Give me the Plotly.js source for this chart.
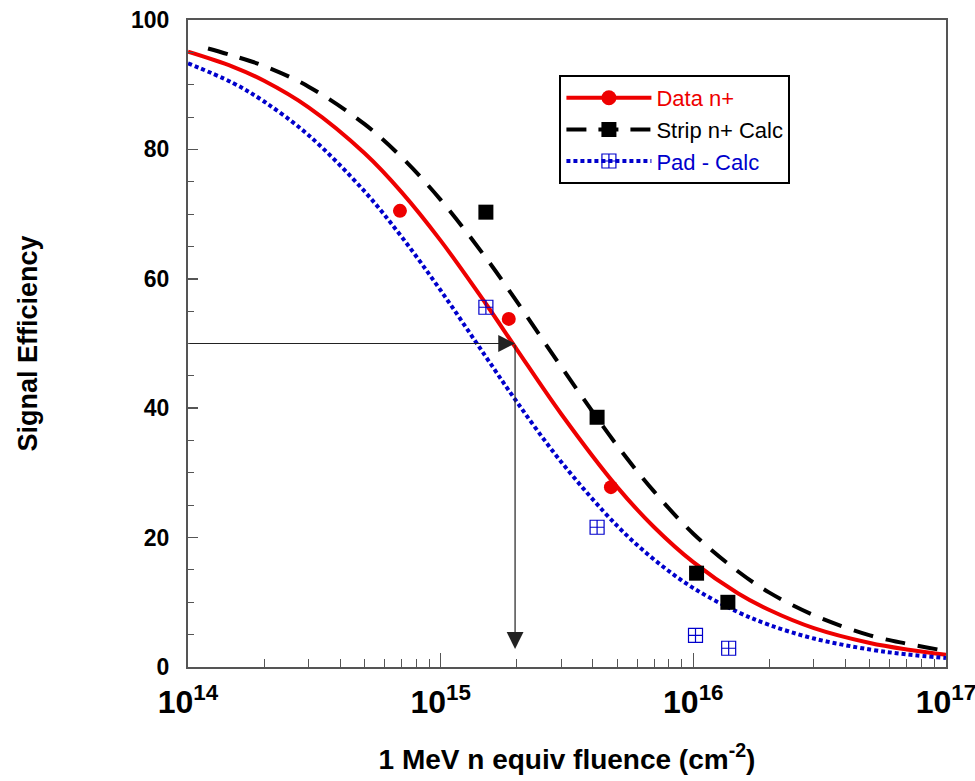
<!DOCTYPE html>
<html>
<head>
<meta charset="utf-8">
<script src="https://cdn.plot.ly/plotly-3.0.1.min.js"></script>
<style>html,body{margin:0;padding:0;background:#fff}#chart{width:975px;height:781px}</style>
</head>
<body>
<div id="chart"></div>
<script>
// Curves
const redFluence = [1e14,1.5e14,2e14,3e14,5e14,7e14,1e15,1.5e15,2e15,3e15,5e15,7e15,1e16,1.5e16,2e16,3e16,5e16,7e16,1e17];
const redEff     = [95.1,92.8,90.6,86.5,79.4,73.4,65.9,56.3,49.1,39.1,27.8,21.6,16.2,11.4,8.8,6.0,3.7,2.7,1.9];
const blackFluence = [1.2e14,1.5e14,2e14,3e14,5e14,7e14,1e15,1.5e15,2e15,3e15,5e15,7e15,1e16,1.5e16,2e16,3e16,5e16,7e16,1e17];
const blackEff     = [95.6,94.5,92.9,89.7,83.9,78.8,72.2,63.4,56.5,46.4,34.2,27.1,20.6,14.8,11.5,8.0,4.9,3.6,2.5];
const blueFluence = [1e14,1.5e14,2e14,3e14,5e14,7e14,1e15,1.5e15,2e15,3e15,5e15,7e15,1e16,1.5e16,2e16,3e16,5e16,7e16,1e17];
const blueEff     = [93.3,90.3,87.4,82.2,73.5,66.5,58.2,48.1,41.0,31.7,21.8,16.6,12.2,8.5,6.5,4.4,2.7,1.95,1.4];
// Measured / calculated points
const dataX  = [6.9e14,1.86e15,4.72e15];
const dataY  = [70.5,53.8,27.8];
const stripX = [1.51e15,4.16e15,1.03e16,1.37e16];
const stripY = [70.3,38.6,14.5,10.0];
const padX   = [1.51e15,4.16e15,1.02e16,1.38e16];
const padY   = [55.6,21.6,4.9,2.9];
// Arrow construction (50% point)
const arrowStartX = 1e14, arrowY = 50, arrowX = 1.97e15, arrowEndY = 2.8;
// Tick labels
const xTickVals = [1e14,1e15,1e16,1e17];
const xTickText = ['10<sup>14</sup>','10<sup>15</sup>','10<sup>16</sup>','10<sup>17</sup>'];

const names = ['Data n+','Strip n+ Calc','Pad - Calc'];
const colors = ['#ee0000','#000000','#0000cc'];

const traces = [
  {x: redFluence, y: redEff, mode:'lines', line:{color:colors[0], width:4, shape:'spline'}, showlegend:false, hoverinfo:'skip'},
  {x: blackFluence, y: blackEff, mode:'lines', line:{color:colors[1], width:4, dash:'20px,13px', shape:'spline'}, showlegend:false, hoverinfo:'skip'},
  {x: blueFluence, y: blueEff, mode:'lines', line:{color:colors[2], width:4, dash:'4px,3px', shape:'spline'}, showlegend:false, hoverinfo:'skip'},
  {x: dataX, y: dataY, mode:'markers', marker:{symbol:'circle', size:14, color:colors[0]}, showlegend:false},
  {x: stripX, y: stripY, mode:'markers', marker:{symbol:'square', size:15, color:colors[1]}, showlegend:false},
  {x: padX, y: padY, mode:'markers', marker:{symbol:'square-cross-open', size:14, color:colors[2], line:{width:1.2}}, showlegend:false},
  // legend entries
  {x:[null], y:[null], mode:'lines+markers', name:'<span style="color:'+colors[0]+'">'+names[0]+'</span>', line:{color:colors[0], width:4}, marker:{symbol:'circle', size:15, color:colors[0]}},
  {x:[null], y:[null], mode:'lines+markers', name:'<span style="color:'+colors[1]+'">'+names[1]+'</span>', line:{color:colors[1], width:4, dash:'20px,12px'}, marker:{symbol:'square', size:15, color:colors[1]}},
  {x:[null], y:[null], mode:'lines+markers', name:'<span style="color:'+colors[2]+'">'+names[2]+'</span>', line:{color:colors[2], width:4, dash:'4px,3px'}, marker:{symbol:'square-cross-open', size:14, color:colors[2], line:{width:1.2}}}
];

const FF = 'Liberation Sans, Arial, sans-serif';

const layout = {
  width:975, height:781,
  margin:{l:188, r:29, t:20, b:114},
  paper_bgcolor:'#fff', plot_bgcolor:'#fff',
  showlegend:true,
  legend:{x:0.49, y:0.915, xanchor:'left', yanchor:'top', bgcolor:'#fff', bordercolor:'#000', borderwidth:2,
          font:{family:FF, size:22, color:'#000'}, itemwidth:85, tracegroupgap:0},
  xaxis:{type:'log', range:[13.9999,17.0001], tickvals:xTickVals, ticktext:xTickText,
         tickfont:{family:FF, size:32, color:'#000', weight:'bold'}, ticklabelstandoff:6, ticklabeloverflow:'allow',
         ticks:'inside', ticklen:14, tickcolor:'#555', tickwidth:1.5,
         minor:{ticks:'inside', ticklen:8, tickcolor:'#555', tickwidth:1, dtick:'D1'},
         showline:true, linecolor:'#555', linewidth:2, mirror:true, showgrid:false, zeroline:false,
         title:{text:'1 MeV n equiv fluence (cm<sup>-2</sup>)', font:{family:FF, size:28, color:'#000', weight:'bold'}, standoff:30}},
  yaxis:{range:[0,100], dtick:20, tickfont:{family:FF, size:23, color:'#000', weight:'bold'}, ticklabelstandoff:12,
         ticks:'inside', ticklen:10, tickcolor:'#555', tickwidth:1.5,
         minor:{ticks:'inside', ticklen:6, tickcolor:'#555', tickwidth:1, dtick:5},
         showline:true, linecolor:'#555', linewidth:2, mirror:true, showgrid:false, zeroline:false,
         title:{text:'Signal Efficiency', font:{family:FF, size:27, color:'#000', weight:'bold'}, standoff:86}},
  annotations:[
    {x:Math.log10(arrowX), y:arrowY, ax:Math.log10(arrowStartX), ay:arrowY, xref:'x', yref:'y', axref:'x', ayref:'y',
     text:'', showarrow:true, arrowhead:2, arrowsize:2.8, arrowwidth:1.2, arrowcolor:'#222', standoff:0},
    {x:Math.log10(arrowX), y:arrowEndY, ax:Math.log10(arrowX), ay:arrowY, xref:'x', yref:'y', axref:'x', ayref:'y',
     text:'', showarrow:true, arrowhead:2, arrowsize:2.8, arrowwidth:1.2, arrowcolor:'#222', standoff:0}
  ]
};

Plotly.newPlot('chart', traces, layout, {displayModeBar:false, staticPlot:true});
</script>
</body>
</html>
